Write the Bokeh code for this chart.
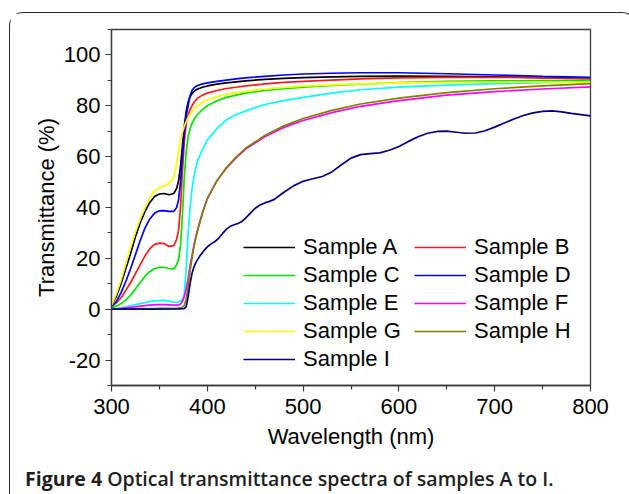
from bokeh.plotting import figure
from bokeh.layouts import column
from bokeh.models import Range1d, Legend, LegendItem, FixedTicker, Div
from bokeh.embed import file_html
from bokeh.resources import INLINE

# ---------------- data ----------------
wavelength = [300, 305, 310, 315, 320, 325, 330, 335, 340, 345, 350, 355, 360, 365, 368,
              370, 372, 374, 376, 378, 380, 382, 384, 386, 388, 390, 395, 400, 410, 420,
              430, 440, 460, 480, 500, 530, 560, 600, 650, 700, 750, 800]

sample_a = [1.5, 5, 10, 16, 22, 28.5, 34, 38.5, 42, 44.3, 45.3, 45.5, 45, 45.5, 47.5,
            50.5, 56, 64, 72, 78, 81.5, 83.5, 84.8, 85.6, 86.2, 86.6, 87.3, 87.8, 88.5, 89,
            89.4, 89.8, 90.4, 90.8, 91.1, 91.4, 91.6, 91.7, 91.6, 91.4, 91.1, 90.8]
sample_b = [1, 2.5, 4.5, 7.5, 10.5, 14, 17.5, 21, 23.8, 25.5, 26, 25.8, 24.7, 25, 27.5,
            31, 40, 54, 66, 73, 76.5, 78.5, 80, 81.2, 82.2, 83, 84.2, 85, 86, 86.8,
            87.3, 87.8, 88.6, 89.2, 89.6, 90.1, 90.6, 91, 91.2, 91.2, 91, 90.6]
sample_c = [0.5, 1.2, 2.2, 3.7, 5.5, 8, 10.5, 13, 14.8, 16, 16.5, 16.5, 16, 15.8, 17.5,
            19.5, 25, 37, 52, 62, 68, 71, 73, 74.5, 75.7, 76.7, 78.5, 80, 82, 83.3,
            84.2, 85, 86, 86.7, 87.3, 88, 88.5, 89.1, 89.6, 89.8, 89.9, 90]
sample_d = [1, 3, 6.5, 11, 16, 21.5, 27, 32, 35.5, 37.8, 38.7, 38.8, 38.5, 38.5, 40,
            43, 50, 60, 69, 76, 80, 84, 86, 87, 87.6, 88, 88.6, 89, 89.6, 90.1,
            90.6, 91, 91.6, 92.1, 92.5, 92.8, 93, 93, 92.6, 92.1, 91.6, 91.2]
sample_e = [0, 0.2, 0.5, 0.9, 1.3, 1.8, 2.2, 2.6, 3, 3.3, 3.4, 3.5, 3.2, 2.8, 2.7,
            2.8, 3.2, 3.8, 6, 16, 30, 40, 47, 52, 55.5, 58.5, 62.8, 66.5, 71, 74.5,
            76.5, 78, 80.5, 82, 83.3, 85, 86.3, 87.3, 88.1, 88.7, 89.1, 89.4]
sample_f = [0, 0.1, 0.3, 0.5, 0.7, 0.9, 1.2, 1.4, 1.6, 1.7, 1.8, 1.8, 1.7, 1.6, 1.6,
            1.7, 2, 3, 5, 8, 12, 17, 21, 25, 28.5, 31.5, 38, 43.5, 50.5, 55.5,
            59.5, 63, 67.8, 71.5, 74.2, 77.3, 79.8, 82, 84.2, 85.6, 86.6, 87.4]
sample_g = [1.5, 6, 11.5, 18, 24.5, 30.5, 35.5, 40, 44, 46.5, 47.8, 48.5, 49.5, 52, 57,
            62, 66.5, 69.5, 72, 73.8, 75.3, 76.6, 77.7, 78.6, 79.4, 80, 81.3, 82.3, 83.6, 84.5,
            85.2, 85.7, 86.6, 87.2, 87.7, 88.2, 88.6, 89, 89.2, 89.3, 89.3, 89.2]
sample_h = [0, 0, 0, 0.1, 0.1, 0.1, 0.2, 0.2, 0.2, 0.2, 0.3, 0.3, 0.3, 0.3, 0.3,
            0.4, 0.5, 0.8, 1.5, 4, 9, 15, 20, 24.5, 28, 31, 37.8, 43.5, 50.5, 55.7,
            59.8, 63.3, 68.3, 72.1, 75, 78.2, 80.7, 83, 85.2, 86.7, 87.8, 88.7]

wavelength_i = [300, 340, 370, 376, 378, 380, 382, 384, 386, 388, 392, 396, 400, 404, 408,
                412, 416, 420, 424, 428, 432, 436, 440, 445, 450, 455, 460, 465, 470, 475,
                480, 490, 500, 510, 520, 530, 540, 550, 560, 570, 580, 590, 600, 610, 620,
                630, 640, 650, 660, 670, 680, 690, 700, 710, 720, 730, 740, 750, 760, 770,
                780, 790, 800]
sample_i = [0, 0, 0.1, 0.2, 1, 5, 10, 14, 16.5, 18.3, 20.8, 22.8, 24.5, 25.7, 26.6,
            28, 29.8, 31.5, 32.6, 33.2, 33.7, 34.5, 35.8, 37.8, 39.7, 41, 41.8, 42.4, 43.2, 44.6,
            46, 48.5, 50.3, 51.3, 52.2, 54, 56.8, 59.4, 60.8, 61.2, 61.5, 62.5, 64, 66, 67.8,
            69.2, 69.9, 70, 69.6, 69.2, 69.3, 70.2, 71.6, 73.2, 74.8, 76.2, 77.2, 77.8, 78, 77.6,
            77, 76.5, 76]

labels = ["Sample A", "Sample B", "Sample C", "Sample D", "Sample E",
          "Sample F", "Sample G", "Sample H", "Sample I"]
colors = ["#000000", "#ff1a1a", "#00e600", "#0000ff", "#00ffff",
          "#ff00ff", "#ffff00", "#808000", "#000080"]

x_ticks = [300, 400, 500, 600, 700, 800]
x_minor = [350, 450, 550, 650, 750]
y_ticks = [-20, 0, 20, 40, 60, 80, 100]
y_minor = [-30, -10, 10, 30, 50, 70, 90, 110]

caption_bold = "Figure 4"
caption_rest = "Optical transmittance spectra of samples A to I."

# ---------------- main figure ----------------
FONT = "Liberation Sans"
W = 615
p = figure(width=W, height=455, output_backend="svg", toolbar_location=None,
           x_range=Range1d(300, 800), y_range=Range1d(-30, 110),
           min_border_left=101, min_border_right=35, min_border_top=16, min_border_bottom=83)

p.xgrid.visible = False
p.ygrid.visible = False
p.outline_line_color = "#3a3a3a"
p.outline_line_width = 1.3
p.background_fill_color = "#ffffff"

for ax, ticks, minor, lab in ((p.xaxis[0], x_ticks, x_minor, "Wavelength (nm)"),
                              (p.yaxis[0], y_ticks, y_minor, "Transmittance (%)")):
    ax.ticker = FixedTicker(ticks=ticks, minor_ticks=minor)
    ax.axis_label = lab
    ax.axis_label_text_font = FONT
    ax.axis_label_text_font_size = "22px"
    ax.axis_label_text_font_style = "normal"
    ax.axis_label_text_color = "#000000"
    ax.major_label_text_font = FONT
    ax.major_label_text_font_size = "22px"
    ax.major_label_text_color = "#000000"
    ax.axis_line_color = "#3a3a3a"
    ax.axis_line_width = 1.3
    ax.major_tick_line_color = "#3a3a3a"
    ax.minor_tick_line_color = "#3a3a3a"
    ax.major_tick_line_width = 1.2
    ax.minor_tick_line_width = 1.2
    ax.major_tick_in = 0
    ax.major_tick_out = 6
    ax.minor_tick_in = 0
    ax.minor_tick_out = 4

p.xaxis[0].major_label_standoff = 7
p.xaxis[0].axis_label_standoff = 7
p.yaxis[0].major_label_standoff = 5
p.yaxis[0].axis_label_standoff = 2
p.yaxis[0].major_label_overrides = {-20: "-20"}

series = [sample_a, sample_b, sample_c, sample_d, sample_e, sample_f, sample_g, sample_h]
renderers = []
for ys, col in zip(series, colors[:8]):
    renderers.append(p.line(wavelength, ys, line_color=col, line_width=1.7))
renderers.append(p.line(wavelength_i, sample_i, line_color=colors[8], line_width=1.7))

legend = Legend(items=[LegendItem(label=l, renderers=[r]) for l, r in zip(labels, renderers)],
                location=(132, 12), orientation="horizontal", ncols=2,
                glyph_width=52, glyph_height=28, label_height=28, label_width=111,
                label_standoff=8, spacing=0, padding=0, margin=0,
                label_text_font=FONT, label_text_font_size="22px", label_text_color="#000000",
                border_line_color=None, background_fill_alpha=0)
p.add_layout(legend)

# ---------------- caption (real HTML text) ----------------
cap = Div(width=W, height=25,
          text=('<div style="font-family:\'Open Sans\',sans-serif;font-size:19.5px;'
                'line-height:12px;padding-left:10px;padding-top:0;margin:0;'
                'color:#1e1e1e;white-space:nowrap;">'
                f'<span style="font-weight:700;">{caption_bold}</span> '
                f'<span style="font-weight:600;">{caption_rest}</span></div>'))

layout = column(p, cap, spacing=0,
                styles={"border": "1.5px solid #2b2b2b", "border-bottom": "none",
                        "border-radius": "14px 14px 0 0",
                        "margin-left": "9px", "margin-top": "12px"})

open("out.html", "w").write(file_html(layout, INLINE))
